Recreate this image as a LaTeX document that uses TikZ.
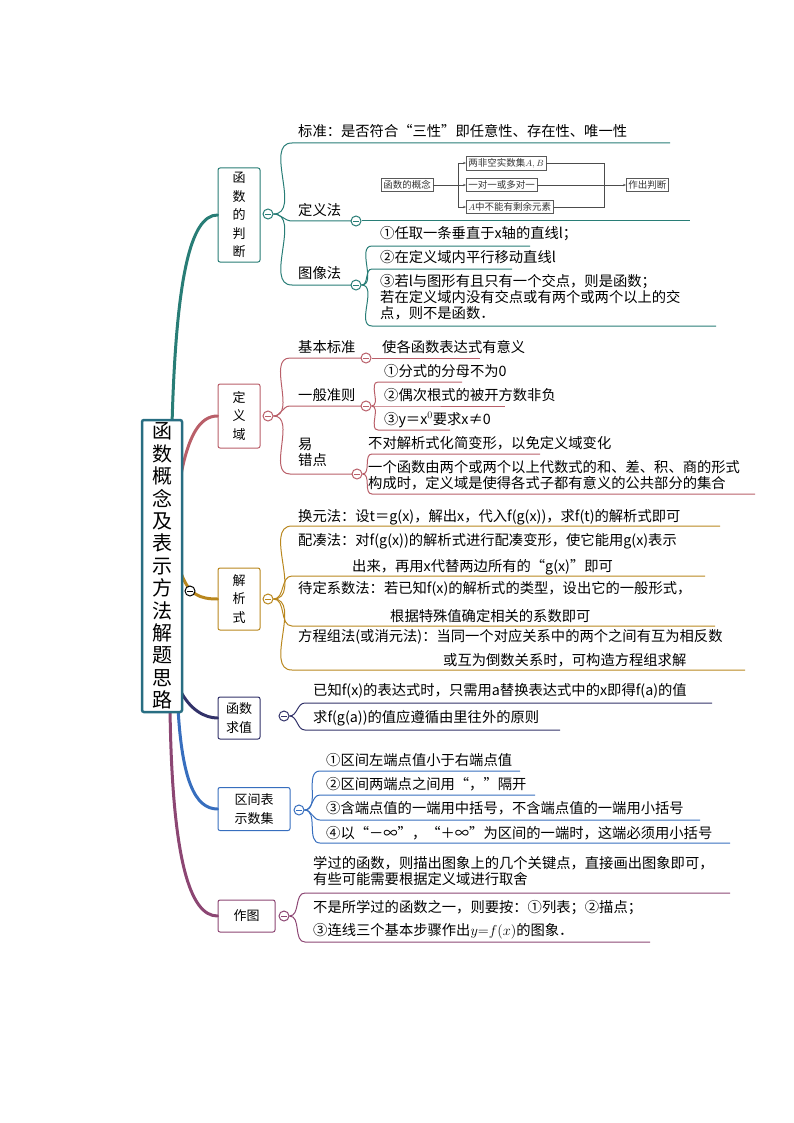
\documentclass[tikz,border=0pt]{standalone}
\usepackage{fontspec}
\setmainfont{Noto Sans CJK SC}
\usetikzlibrary{calc,arrows.meta}
\definecolor{cA}{RGB}{40,125,118}
\definecolor{cB}{RGB}{185,95,105}
\definecolor{cC}{RGB}{185,135,30}
\definecolor{cD}{RGB}{50,50,105}
\definecolor{cE}{RGB}{55,110,190}
\definecolor{cF}{RGB}{140,70,115}
\definecolor{cR}{RGB}{40,110,130}
\tikzset{
  box/.style={draw, line width=1pt, rounded corners=2pt, fill=white, align=center, inner sep=2pt, font=\fontsize{13}{18.5}\selectfont},
  circ/.style={circle, draw, line width=1pt, fill=white, inner sep=0pt, minimum size=10pt,
    path picture={\draw[line width=0.8pt] ([xshift=-2.6pt]path picture bounding box.center) -- ([xshift=2.6pt]path picture bounding box.center);}},
  txt/.style={anchor=base west, inner sep=0pt, font=\fontsize{14.3}{16}\selectfont},
  tl/.style={anchor=north west, inner sep=0pt, align=left, font=\fontsize{14.3}{16}\selectfont},
  fb/.style={draw=gray!70!black, line width=0.6pt, inner sep=2pt, font=\fontsize{9.5}{10}\selectfont, text=gray!40!black, anchor=west},
  fa/.style={draw=gray!60!black, line width=0.6pt},
  trunk/.style={line width=3pt, line cap=round},
  ln/.style={line width=1pt},
  rootst/.style={draw=cR, line width=2.5pt, rounded corners=2pt, minimum width=40pt, minimum height=292pt, inner sep=0pt, fill=white, align=center, font=\fontsize{20}{22.4}\selectfont},
}
\newcommand\kid[5]{\draw[ln,#1] (#2) to[out=0,in=180] (#3,#4) -- (#5,#4);}
\begin{document}
\begin{tikzpicture}[x=1pt,y=-1pt]
\useasboundingbox (0,0) rectangle (794,1123);
% boxes
\node[box, draw=cA, minimum width=42pt, minimum height=94pt] (b1) at (239,215) {函\\数\\的\\判\\断};
\node[box, draw=cB, minimum width=42pt, minimum height=64pt] (b2) at (239,416) {定\\义\\域};
\node[box, draw=cC, minimum width=42pt, minimum height=62pt] (b3) at (239,599) {解\\析\\式};
\node[box, draw=cD, minimum width=42pt, minimum height=42pt] (b4) at (239,718) {函数\\求值};
\node[box, draw=cE, minimum width=72pt, minimum height=43pt] (b5) at (254,809) {区间表\\示数集};
\node[box, draw=cF, minimum width=57pt, minimum height=32pt] (b6) at (246.5,916) {作图};
\coordinate (rootc) at (162,566);
\coordinate (rA) at (172,425);
\coordinate (rB) at (180,480);
\coordinate (rC) at (180,570);
\coordinate (rD) at (180,690);
\coordinate (rE) at (178,708);
\coordinate (rF) at (170,708);
% trunks
\draw[trunk,cA] (rA) .. controls (176,280) and (190,215) .. (b1.west);
\draw[trunk,cB] (rB) .. controls (188,435) and (200,416) .. (b2.west);
\draw[trunk,cC] (rC) .. controls (188,595) and (200,599) .. (b3.west);
\draw[trunk,cD] (rD) .. controls (190,710) and (205,718) .. (b4.west);
\draw[trunk,cE] (rE) .. controls (182,780) and (195,809) .. (b5.west);
\draw[trunk,cF] (rF) .. controls (172,860) and (190,916) .. (b6.west);
\node[rootst] (root) at (rootc) {函\\数\\概\\念\\及\\表\\示\\方\\法\\解\\题\\思\\路};
\node[circ, draw=black] (rc) at (190,591) {};

% ---------- branch 1
\node[circ, draw=cA] (c1) at (268,214) {};
\kid{cA}{c1}{292}{143}{670}
\node[txt] at (298,137) {标准：是否符合“三性”即任意性、存在性、唯一性};
\node[circ, draw=cA] (c11) at (356,221) {};
\kid{cA}{c1}{292}{221}{351}
\draw[ln,cA] (c11) -- (690,221);
\node[txt] at (298,215) {定义法};
\node[circ, draw=cA] (c12) at (356,285) {};
\kid{cA}{c1}{292}{285}{351}
\node[txt] at (298,278) {图像法};
\kid{cA}{c12}{372}{246}{530}
\kid{cA}{c12}{372}{269}{512}
\kid{cA}{c12}{372}{326}{716}
\node[txt] at (380,239) {①任取一条垂直于x轴的直线l；};
\node[txt] at (380,262) {②在定义域内平行移动直线l};
\node[tl] at (380,274) {③若l与图形有且只有一个交点，则是函数；\\若在定义域内没有交点或有两个或两个以上的交\\点，则不是函数．};
% flowchart
\node[fb] (f0) at (381,185) {函数的概念};
\node[fb] (f1) at (466,163) {两非空实数集$A,B$};
\node[fb] (f2) at (466,185) {一对一或多对一};
\node[fb] (f3) at (466,207) {$A$中不能有剩余元素};
\node[fb] (f4) at (626,185) {作出判断};
\coordinate (fl) at (458,185);
\coordinate (fr) at (604,185);
\draw[fa] (f0.east) -- (fl);
\draw[fa,-{Stealth[length=3pt]}] (fl) |- (f1.west);
\draw[fa,-{Stealth[length=3pt]}] (fl) -- (f2.west);
\draw[fa,-{Stealth[length=3pt]}] (fl) |- (f3.west);
\draw[fa] (f1.east) -| (fr);
\draw[fa] (f3.east) -| (fr);
\draw[fa] (f2.east) -- (fr);
\draw[fa,-{Stealth[length=3pt]}] (fr) -- (f4.west);

% ---------- branch 2
\node[circ, draw=cB] (c2) at (268,416) {};
\node[circ, draw=cB] (c21) at (366,358) {};
\kid{cB}{c2}{290}{358}{361}
\draw[ln,cB] (c21) -- (480,358);
\node[txt] at (298,352) {基本标准};
\node[txt] at (382,352) {使各函数表达式有意义};
\node[circ, draw=cB] (c22) at (366,406) {};
\kid{cB}{c2}{290}{406}{361}
\node[txt] at (298,400) {一般准则};
\kid{cB}{c22}{378}{382}{462}
\kid{cB}{c22}{378}{406}{505}
\kid{cB}{c22}{378}{430}{450}
\node[txt] at (384,376) {①分式的分母不为0};
\node[txt] at (384,400) {②偶次根式的被开方数非负};
\node[txt] at (384,424) {③y＝x$^0$要求x≠0};
\node[circ, draw=cB] (c23) at (357,474) {};
\kid{cB}{c2}{290}{474}{352}
\node[tl] at (298,438) {易\\错点};
\kid{cB}{c23}{372}{454}{540}
\kid{cB}{c23}{372}{494}{755}
\node[txt] at (368,448) {不对解析式化简变形，以免定义域变化};
\node[tl] at (368,460) {一个函数由两个或两个以上代数式的和、差、积、商的形式\\构成时，定义域是使得各式子都有意义的公共部分的集合};

% ---------- branch 3
\node[circ, draw=cC] (c3) at (268,599) {};
\kid{cC}{c3}{292}{526}{720}
\kid{cC}{c3}{292}{576}{705}
\kid{cC}{c3}{292}{626}{715}
\kid{cC}{c3}{292}{670}{745}
\node[txt] at (298,521) {换元法：设t＝g(x)，解出x，代入f(g(x))，求f(t)的解析式即可};
\node[txt] at (298,545) {配凑法：对f(g(x))的解析式进行配凑变形，使它能用g(x)表示};
\node[txt] at (352,571) {出来，再用x代替两边所有的“g(x)”即可};
\node[txt] at (298,593) {待定系数法：若已知f(x)的解析式的类型，设出它的一般形式，};
\node[txt] at (390,621) {根据特殊值确定相关的系数即可};
\node[txt] at (298,641) {方程组法(或消元法)：当同一个对应关系中的两个之间有互为相反数};
\node[txt] at (443,665) {或互为倒数关系时，可构造方程组求解};

% ---------- branch 4
\node[circ, draw=cD] (c4) at (284,716) {};
\kid{cD}{c4}{305}{703}{712}
\kid{cD}{c4}{305}{730}{560}
\node[txt] at (313,695) {已知f(x)的表达式时，只需用a替换表达式中的x即得f(a)的值};
\node[txt] at (313,722) {求f(g(a))的值应遵循由里往外的原则};

% ---------- branch 5
\node[circ, draw=cE] (c5) at (299,810) {};
\kid{cE}{c5}{320}{771}{520}
\kid{cE}{c5}{320}{795}{535}
\kid{cE}{c5}{320}{820}{700}
\kid{cE}{c5}{320}{843}{730}
\node[txt] at (326,765) {①区间左端点值小于右端点值};
\node[txt] at (326,789) {②区间两端点之间用“，”隔开};
\node[txt] at (326,813) {③含端点值的一端用中括号，不含端点值的一端用小括号};
\node[txt] at (326,838) {④以“－∞”，“＋∞”为区间的一端时，这端必须用小括号};

% ---------- branch 6
\node[circ, draw=cF] (c6) at (284,916) {};
\kid{cF}{c6}{305}{893}{730}
\kid{cF}{c6}{305}{942}{650}
\node[tl] at (313,856) {学过的函数，则描出图象上的几个关键点，直接画出图象即可，\\有些可能需要根据定义域进行取舍};
\node[txt] at (313,912) {不是所学过的函数之一，则要按：①列表；②描点；};
\node[txt] at (313,935) {③连线三个基本步骤作出$y{=}f(x)$的图象．};
\end{tikzpicture}
\end{document}
